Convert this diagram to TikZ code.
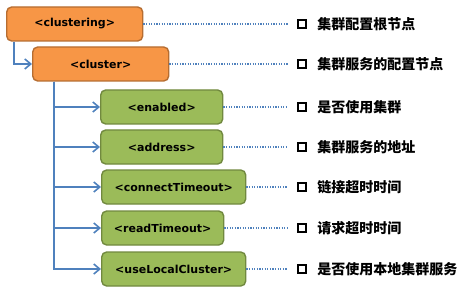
\documentclass[tikz,border=0pt]{standalone}
\usepackage{fontspec}
\usepackage{xcolor}
\usepackage{tikz}
\usetikzlibrary{arrows.meta,positioning}
\newfontfamily\tagfont{DejaVu Sans}
\newfontfamily\cjk{Noto Sans CJK SC}
\definecolor{nodeorange}{HTML}{F79646}
\definecolor{orangeedge}{HTML}{B66D31}
\definecolor{nodegreen}{HTML}{9BBB59}
\definecolor{greenedge}{HTML}{71893F}
\definecolor{linkblue}{HTML}{4F81BD}
\tikzset{
  rootbox/.style ={rounded corners=5pt,draw=orangeedge,line width=1.4pt,fill=nodeorange,
                   minimum width=136pt,minimum height=34pt,inner xsep=10pt,
                   font=\tagfont\bfseries\fontsize{11}{13}\selectfont,anchor=west},
  leafbox/.style ={rounded corners=5pt,draw=greenedge,line width=1.4pt,fill=nodegreen,
                   minimum width=122pt,minimum height=34pt,inner xsep=10pt,
                   font=\tagfont\bfseries\fontsize{11}{13}\selectfont,anchor=west},
  tick/.style    ={draw=black,line width=1.6pt,minimum size=8.5pt,inner sep=0pt},
  note/.style    ={font=\cjk\bfseries\fontsize{14}{16}\selectfont,inner sep=0pt,anchor=west},
  branch/.style  ={-{Straight Barb[length=6pt,width=10pt,line width=1.6pt]},
                   line width=2pt,draw=linkblue},
  leader/.style  ={line width=1.8pt,draw=linkblue,dash pattern=on 1.2pt off 1.4pt}
}
\begin{document}
\begin{tikzpicture}[x=1pt,y=1pt]
    \useasboundingbox (0,0) rectangle (470,292);
    % tree of tags
    \node[rootbox] (clustering) at (6,268) {<clustering>};
    \node[rootbox] (cluster) at (32,228) {<cluster>};
    \node[leafbox] (enabled) at (100,185) {<enabled>};
    \node[leafbox] (address) at (100,145) {<address>};
    \node[leafbox,minimum width=144pt] (connect) at (101,105) {<connectTimeout>};
    \node[leafbox] (read) at (101,64) {<readTimeout>};
    \node[leafbox,minimum width=144pt] (local) at (101,23) {<useLocalCluster>};
    % check boxes and notes
    \node[tick] (m1) at (302,268) {};
    \node[tick] (m2) at (302,228) {};
    \node[tick] (m3) at (302,185) {};
    \node[tick] (m4) at (302,145) {};
    \node[tick] (m5) at (302,105) {};
    \node[tick] (m6) at (302,64) {};
    \node[tick] (m7) at (302,23) {};
    \node[note,right=10pt of m1] (n1) {集群配置根节点};
    \node[note,right=10pt of m2] (n2) {集群服务的配置节点};
    \node[note,right=10pt of m3] (n3) {是否使用集群};
    \node[note,right=10pt of m4] (n4) {集群服务的地址};
    \node[note,right=10pt of m5] (n5) {链接超时时间};
    \node[note,right=10pt of m6] (n6) {请求超时时间};
    \node[note,right=10pt of m7] (n7) {是否使用本地集群服务};
    % connectors
    \draw[branch] ([xshift=8pt]clustering.south west) |- (cluster.west);
    \draw[branch] ([xshift=22pt]cluster.south west) |- (enabled.west);
    \draw[branch] ([xshift=22pt]cluster.south west) |- (address.west);
    \draw[branch] ([xshift=22pt]cluster.south west) |- (connect.west);
    \draw[branch] ([xshift=22pt]cluster.south west) |- (read.west);
    \draw[branch] ([xshift=22pt]cluster.south west) |- (local.west);
    % dotted leaders
    \draw[leader] (clustering.east) -- ([xshift=-9pt]m1.west);
    \draw[leader] (cluster.east) -- ([xshift=-9pt]m2.west);
    \draw[leader] (enabled.east) -- ([xshift=-9pt]m3.west);
    \draw[leader] (address.east) -- ([xshift=-9pt]m4.west);
    \draw[leader] (connect.east) -- ([xshift=-9pt]m5.west);
    \draw[leader] (read.east) -- ([xshift=-9pt]m6.west);
    \draw[leader] (local.east) -- ([xshift=-9pt]m7.west);
\end{tikzpicture}
\end{document}
